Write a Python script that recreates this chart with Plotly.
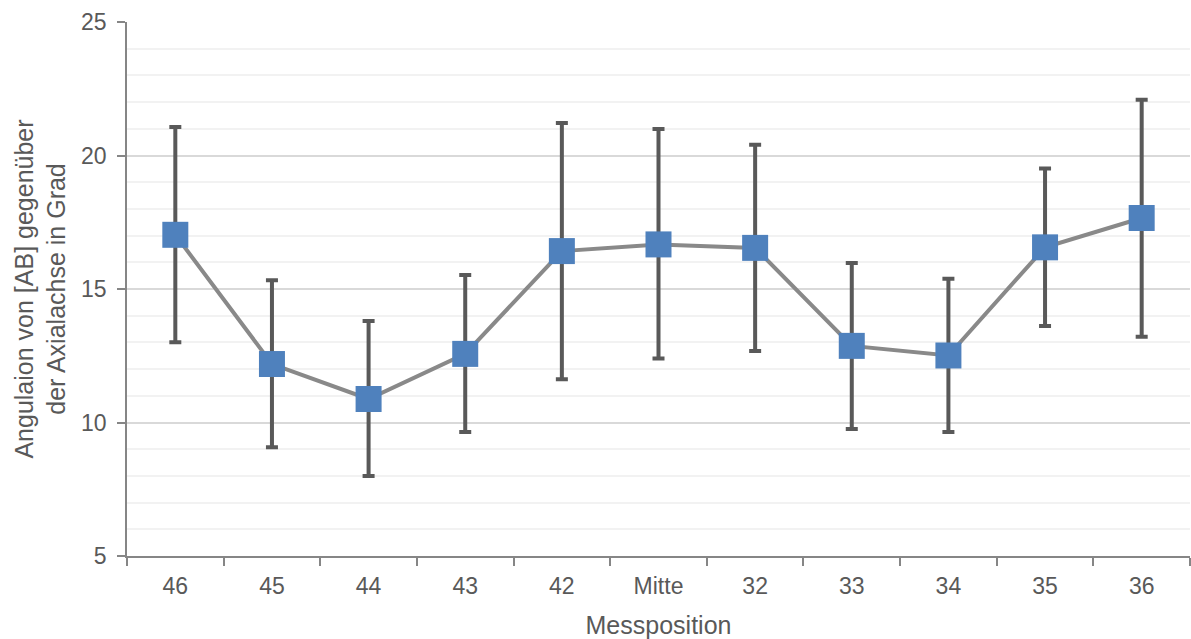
import plotly.graph_objects as go

categories = ["46", "45", "44", "43", "42", "Mitte", "32", "33", "34", "35", "36"]
means = [17.03, 12.19, 10.88, 12.57, 16.42, 16.67, 16.54, 12.87, 12.51, 16.56, 17.66]
err_plus = [4.04, 3.14, 2.92, 2.95, 4.80, 4.32, 3.86, 3.10, 2.87, 2.95, 4.43]
err_minus = [4.02, 3.12, 2.88, 2.93, 4.80, 4.27, 3.86, 3.11, 2.87, 2.95, 4.45]

font_family = "Liberation Sans, Arial, sans-serif"
txt = "#595959"

fig = go.Figure()
fig.add_trace(go.Scatter(
    x=categories, y=means, mode="lines+markers",
    line=dict(color="#898989", width=4),
    marker=dict(symbol="square", size=26, color="#4F81BD"),
    error_y=dict(type="data", symmetric=False, array=err_plus, arrayminus=err_minus,
                 color="#595959", thickness=4, width=6),
    showlegend=False,
))

fig.update_layout(
    width=1191, height=639,
    margin=dict(l=127, r=1, t=22, b=83),
    plot_bgcolor="white", paper_bgcolor="white",
    font=dict(family=font_family, color=txt, size=23),
    xaxis=dict(
        type="category", tickson="boundaries", ticks="outside", ticklen=8,
        tickcolor="#868686", tickwidth=1.5,
        showline=True, linecolor="#868686", linewidth=1.5,
        showgrid=False, range=[-0.5, 10.5],
        tickfont=dict(size=23, color=txt), ticklabelstandoff=9,
        title=dict(text="Messposition", font=dict(size=25, color=txt), standoff=19),
    ),
    yaxis=dict(
        range=[5, 25], tickvals=[5, 10, 15, 20, 25], ticks="outside", ticklen=8,
        tickcolor="#868686", tickwidth=1.5,
        showline=True, linecolor="#868686", linewidth=1.5,
        showgrid=True, gridcolor="#d9d9d9", gridwidth=1.5,
        minor=dict(dtick=1, showgrid=True, gridcolor="#f2f2f2", gridwidth=1.5, ticks=""),
        zeroline=False,
        tickfont=dict(size=23, color=txt), ticklabelstandoff=6,
        title=dict(text="Angulaion von [AB] gegenüber<br>der Axialachse in Grad",
                   font=dict(size=25, color=txt), standoff=8),
    ),
)

fig.write_html("out.html")
